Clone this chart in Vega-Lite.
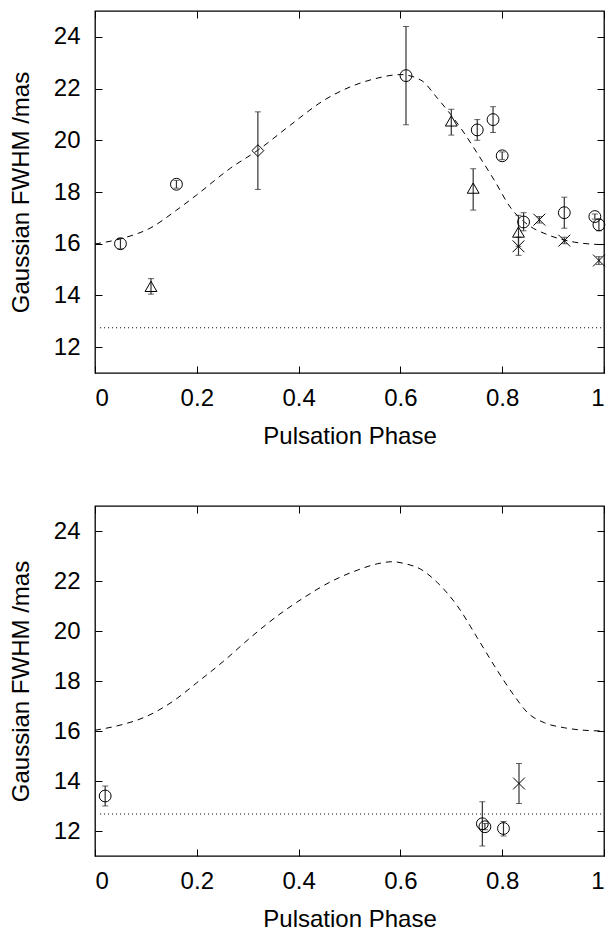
{
  "$schema": "https://vega.github.io/schema/vega-lite/v6.json",
  "padding": {"left": 8, "top": 9, "right": 2, "bottom": 5},
  "spacing": 55,
  "config": {
    "font": "Liberation Sans",
    "view": {"stroke": "#000", "strokeWidth": 1.3},
    "axis": {
      "domain": false, "grid": false,
      "tickColor": "#000", "tickSize": -7, "tickWidth": 1,
      "labelFont": "Liberation Sans", "labelFontSize": 24, "labelColor": "#000",
      "titleFont": "Liberation Sans", "titleFontSize": 24, "titleFontWeight": "normal", "titleColor": "#000"
    }
  },
  "datasets": {
    "curveTop": [
      {"x": 0, "y": 15.99}, {"x": 0.056, "y": 16.22}, {"x": 0.108, "y": 16.6}, {"x": 0.161, "y": 17.31},
      {"x": 0.2, "y": 17.89}, {"x": 0.266, "y": 18.92}, {"x": 0.321, "y": 19.63}, {"x": 0.384, "y": 20.59},
      {"x": 0.45, "y": 21.55}, {"x": 0.502, "y": 22.07}, {"x": 0.548, "y": 22.37}, {"x": 0.6, "y": 22.54},
      {"x": 0.64, "y": 22.33}, {"x": 0.673, "y": 21.62}, {"x": 0.719, "y": 20.46}, {"x": 0.751, "y": 19.5},
      {"x": 0.784, "y": 18.47}, {"x": 0.817, "y": 17.38}, {"x": 0.85, "y": 16.74}, {"x": 0.889, "y": 16.35},
      {"x": 0.942, "y": 16.06}, {"x": 1.0, "y": 15.96}
    ],
    "curveBottom": [
      {"x": 0, "y": 16.03}, {"x": 0.056, "y": 16.27}, {"x": 0.095, "y": 16.53}, {"x": 0.154, "y": 17.2},
      {"x": 0.2, "y": 17.93}, {"x": 0.253, "y": 18.8}, {"x": 0.305, "y": 19.73}, {"x": 0.358, "y": 20.6},
      {"x": 0.41, "y": 21.33}, {"x": 0.463, "y": 21.97}, {"x": 0.515, "y": 22.43}, {"x": 0.555, "y": 22.69},
      {"x": 0.584, "y": 22.77}, {"x": 0.61, "y": 22.69}, {"x": 0.64, "y": 22.47}, {"x": 0.673, "y": 21.93},
      {"x": 0.712, "y": 21.0}, {"x": 0.751, "y": 19.73}, {"x": 0.791, "y": 18.4}, {"x": 0.824, "y": 17.4},
      {"x": 0.85, "y": 16.73}, {"x": 0.883, "y": 16.33}, {"x": 0.922, "y": 16.13}, {"x": 0.961, "y": 16.03},
      {"x": 1.0, "y": 16.0}
    ],
    "pointsTop": [
      {"x": 0.05, "y": 16.0, "lo": 15.8, "hi": 16.2, "s": "circle"},
      {"x": 0.16, "y": 18.3, "lo": 18.15, "hi": 18.45, "s": "circle"},
      {"x": 0.611, "y": 22.5, "lo": 20.6, "hi": 24.4, "s": "circle"},
      {"x": 0.751, "y": 20.4, "lo": 20.0, "hi": 20.8, "s": "circle"},
      {"x": 0.782, "y": 20.8, "lo": 20.3, "hi": 21.3, "s": "circle"},
      {"x": 0.8, "y": 19.4, "lo": 19.25, "hi": 19.55, "s": "circle"},
      {"x": 0.842, "y": 16.84, "lo": 16.5, "hi": 17.2, "s": "circle"},
      {"x": 0.922, "y": 17.2, "lo": 16.6, "hi": 17.8, "s": "circle"},
      {"x": 0.982, "y": 17.05, "lo": 16.95, "hi": 17.15, "s": "circle"},
      {"x": 0.99, "y": 16.73, "lo": 16.5, "hi": 16.95, "s": "circle"},
      {"x": 0.11, "y": 14.35, "lo": 14.05, "hi": 14.65, "s": "triangle"},
      {"x": 0.7, "y": 20.75, "lo": 20.2, "hi": 21.2, "s": "triangle"},
      {"x": 0.743, "y": 18.15, "lo": 17.3, "hi": 18.9, "s": "triangle"},
      {"x": 0.832, "y": 16.45, "lo": 15.9, "hi": 17.1, "s": "triangle"},
      {"x": 0.32, "y": 19.6, "lo": 18.1, "hi": 21.1, "s": "diamond"},
      {"x": 0.832, "y": 15.9, "lo": 15.55, "hi": 16.25, "s": "cross"},
      {"x": 0.873, "y": 16.93, "lo": 16.8, "hi": 17.05, "s": "cross"},
      {"x": 0.922, "y": 16.12, "lo": 16.0, "hi": 16.25, "s": "cross"},
      {"x": 0.99, "y": 15.35, "lo": 15.2, "hi": 15.5, "s": "cross"}
    ],
    "pointsBottom": [
      {"x": 0.02, "y": 13.4, "lo": 13.0, "hi": 13.8, "s": "circle"},
      {"x": 0.761, "y": 12.29, "lo": 11.4, "hi": 13.17, "s": "circle"},
      {"x": 0.766, "y": 12.17, "lo": 12.05, "hi": 12.3, "s": "circle"},
      {"x": 0.8025, "y": 12.1, "lo": 11.8, "hi": 12.38, "s": "circle"},
      {"x": 0.833, "y": 13.9, "lo": 13.1, "hi": 14.7, "s": "cross"}
    ],
    "limitTop": [{"x": 0.01, "x2": 1.0, "y": 12.75}],
    "limitBottom": [{"x": 0.01, "x2": 1.0, "y": 12.68}]
  },
  "vconcat": [
    {
      "width": 509, "height": 362,
      "resolve": {"axis": {"x": "independent", "y": "independent"}},
      "layer": [
        {
          "layer": [
            {
              "data": {"name": "curveTop"},
              "mark": {"type": "line", "interpolate": "monotone", "color": "#000", "strokeWidth": 1, "strokeDash": [6, 5]},
              "encoding": {
                "x": {"field": "x", "type": "quantitative", "scale": {"domain": [0, 1], "nice": false}, "title": "Pulsation Phase", "axis": {"orient": "bottom", "values": [0, 0.2, 0.4, 0.6, 0.8, 1], "format": "~g", "labelPadding": 20, "titlePadding": 14}},
                "y": {"field": "y", "type": "quantitative", "scale": {"domain": [11, 25], "nice": false, "zero": false}, "title": "Gaussian FWHM /mas", "axis": {"orient": "left", "values": [12, 14, 16, 18, 20, 22, 24], "labelPadding": 22, "titlePadding": 20}}
              }
            },
            {
              "data": {"name": "limitTop"},
              "mark": {"type": "rule", "color": "#000", "strokeWidth": 1, "strokeDash": [1, 3]},
              "encoding": {
                "x": {"field": "x", "type": "quantitative", "title": "Pulsation Phase"},
                "x2": {"field": "x2"},
                "y": {"field": "y", "type": "quantitative", "title": "Gaussian FWHM /mas"}
              }
            },
            {
              "data": {"name": "pointsTop"},
              "mark": {"type": "errorbar", "ticks": {"size": 6, "color": "#222"}, "rule": {"color": "#333", "strokeWidth": 1.2}},
              "encoding": {
                "x": {"field": "x", "type": "quantitative", "title": "Pulsation Phase"},
                "y": {"field": "lo", "type": "quantitative", "title": "Gaussian FWHM /mas"},
                "y2": {"field": "hi"}
              }
            },
            {
              "data": {"name": "pointsTop"},
              "mark": {"type": "point", "filled": false, "stroke": "#000", "strokeWidth": 1, "size": 140, "opacity": 1},
              "encoding": {
                "x": {"field": "x", "type": "quantitative", "title": "Pulsation Phase"},
                "y": {"field": "y", "type": "quantitative", "title": "Gaussian FWHM /mas"},
                "shape": {"field": "s", "type": "nominal", "legend": null, "scale": {"domain": ["circle", "triangle", "diamond", "cross"], "range": ["circle", "triangle-up", "diamond", "M-1,-1L1,1M-1,1L1,-1"]}}
              }
            }
          ]
        },
        {
          "data": {"name": "curveTop"},
          "mark": {"type": "point", "opacity": 0},
          "encoding": {
            "x": {"field": "x", "type": "quantitative", "title": null, "axis": {"orient": "top", "labels": false, "values": [0, 0.2, 0.4, 0.6, 0.8, 1]}},
            "y": {"field": "y", "type": "quantitative", "title": null, "axis": {"orient": "right", "labels": false, "values": [12, 14, 16, 18, 20, 22, 24]}}
          }
        }
      ]
    },
    {
      "width": 509, "height": 350,
      "resolve": {"axis": {"x": "independent", "y": "independent"}},
      "layer": [
        {
          "layer": [
            {
              "data": {"name": "curveBottom"},
              "mark": {"type": "line", "interpolate": "monotone", "color": "#000", "strokeWidth": 1, "strokeDash": [6, 5]},
              "encoding": {
                "x": {"field": "x", "type": "quantitative", "scale": {"domain": [0, 1], "nice": false}, "title": "Pulsation Phase", "axis": {"orient": "bottom", "values": [0, 0.2, 0.4, 0.6, 0.8, 1], "format": "~g", "labelPadding": 20, "titlePadding": 14}},
                "y": {"field": "y", "type": "quantitative", "scale": {"domain": [11, 25], "nice": false, "zero": false}, "title": "Gaussian FWHM /mas", "axis": {"orient": "left", "values": [12, 14, 16, 18, 20, 22, 24], "labelPadding": 22, "titlePadding": 20}}
              }
            },
            {
              "data": {"name": "limitBottom"},
              "mark": {"type": "rule", "color": "#000", "strokeWidth": 1, "strokeDash": [1, 3]},
              "encoding": {
                "x": {"field": "x", "type": "quantitative", "title": "Pulsation Phase"},
                "x2": {"field": "x2"},
                "y": {"field": "y", "type": "quantitative", "title": "Gaussian FWHM /mas"}
              }
            },
            {
              "data": {"name": "pointsBottom"},
              "mark": {"type": "errorbar", "ticks": {"size": 6, "color": "#222"}, "rule": {"color": "#333", "strokeWidth": 1.2}},
              "encoding": {
                "x": {"field": "x", "type": "quantitative", "title": "Pulsation Phase"},
                "y": {"field": "lo", "type": "quantitative", "title": "Gaussian FWHM /mas"},
                "y2": {"field": "hi"}
              }
            },
            {
              "data": {"name": "pointsBottom"},
              "mark": {"type": "point", "filled": false, "stroke": "#000", "strokeWidth": 1, "size": 140, "opacity": 1},
              "encoding": {
                "x": {"field": "x", "type": "quantitative", "title": "Pulsation Phase"},
                "y": {"field": "y", "type": "quantitative", "title": "Gaussian FWHM /mas"},
                "shape": {"field": "s", "type": "nominal", "legend": null, "scale": {"domain": ["circle", "triangle", "diamond", "cross"], "range": ["circle", "triangle-up", "diamond", "M-1,-1L1,1M-1,1L1,-1"]}}
              }
            }
          ]
        },
        {
          "data": {"name": "curveBottom"},
          "mark": {"type": "point", "opacity": 0},
          "encoding": {
            "x": {"field": "x", "type": "quantitative", "title": null, "axis": {"orient": "top", "labels": false, "values": [0, 0.2, 0.4, 0.6, 0.8, 1]}},
            "y": {"field": "y", "type": "quantitative", "title": null, "axis": {"orient": "right", "labels": false, "values": [12, 14, 16, 18, 20, 22, 24]}}
          }
        }
      ]
    }
  ]
}
